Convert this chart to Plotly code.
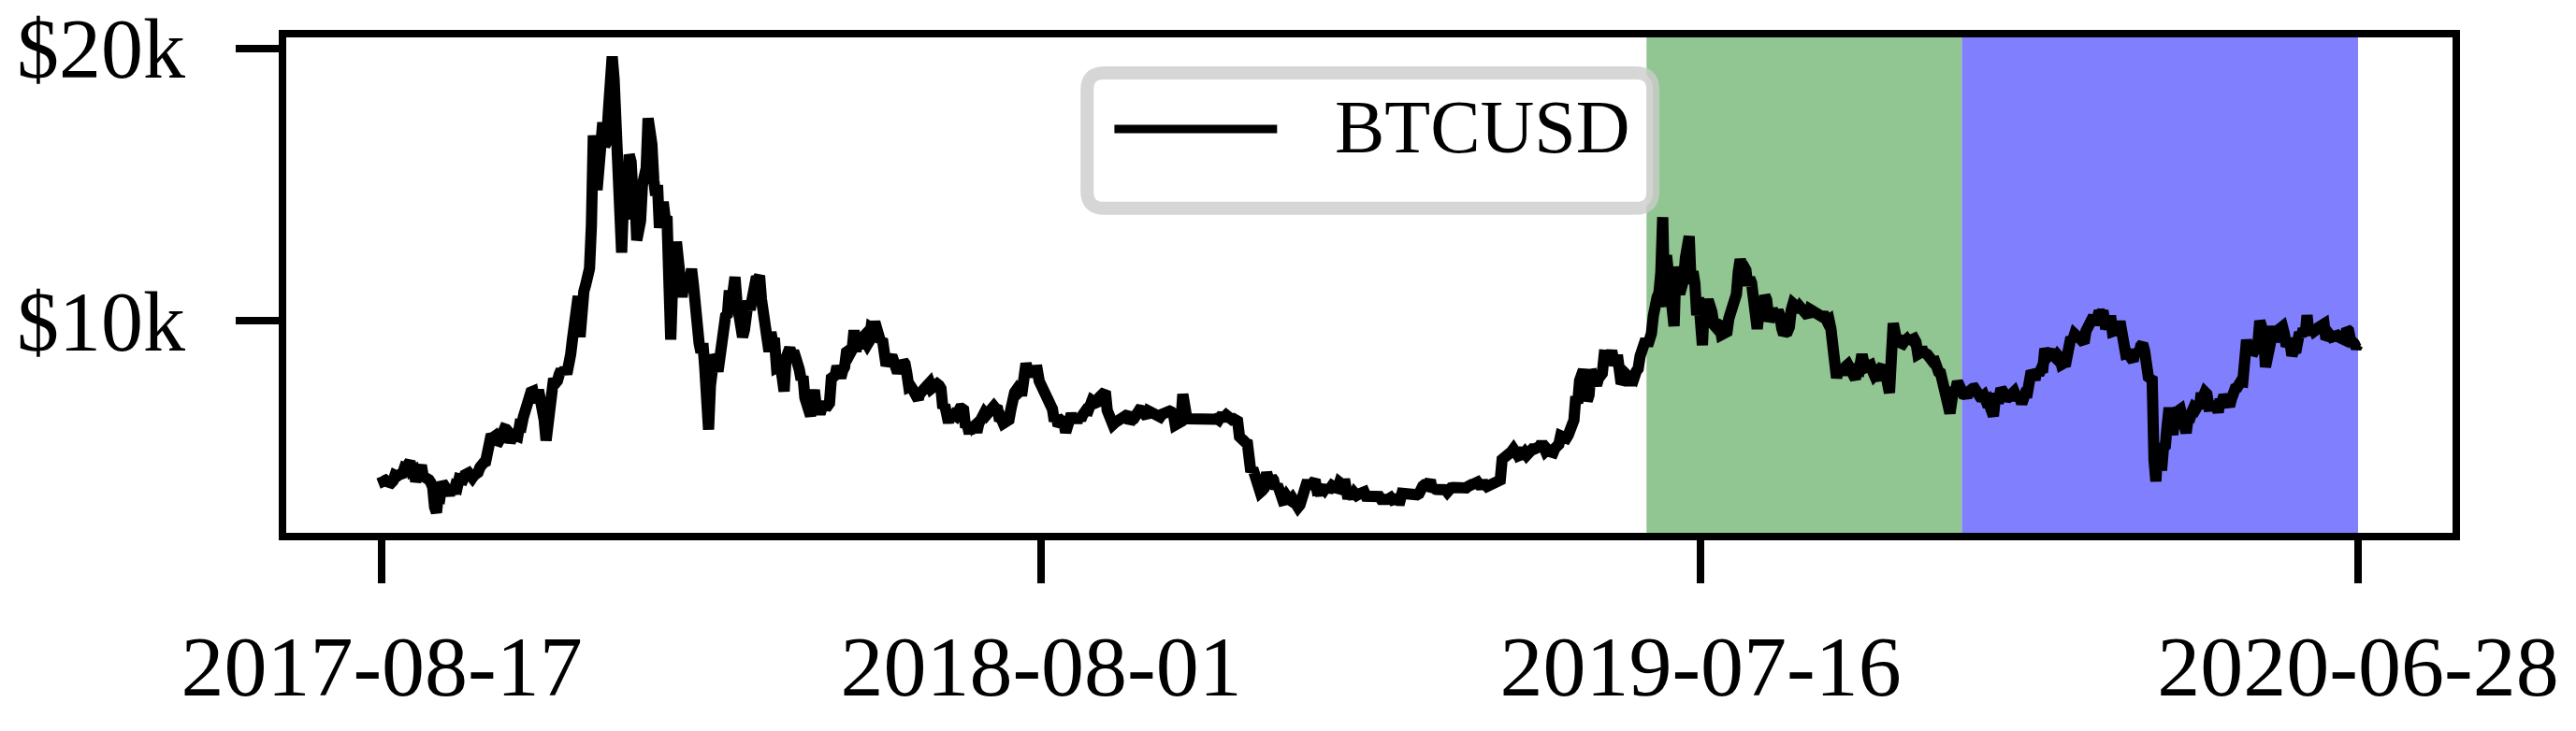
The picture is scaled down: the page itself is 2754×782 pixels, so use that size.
import pandas as pd
import plotly.graph_objects as go

# BTCUSD daily values (a few days keep the hourly extreme the line shows)
btc_2017 = [
    4285, 4108, 4139, 4086, 4016, 4040, 4114, 4316, 4280, 4337, 4310, 4386, 4587, 4555, 4724,  # Aug 17-31
    4834, 4472, 4509, 4100, 4366, 4619, 4691, 4282, 4258, 4130, 4161, 4054, 3882, 3154, 2950,
    3625, 3582, 4065, 3924, 3905, 3631, 3631, 3776, 3660, 3920, 3882, 4193, 4174, 4163, 4338,  # Sep
    4403, 4409, 4317, 4229, 4328, 4370, 4426, 4611, 4772, 4782, 4820, 5430, 5650, 5820, 5711, 5760,
    5595, 5572, 5695, 6005, 6031, 6008, 5930, 5526, 5750, 5904, 5780, 5753, 6153, 6130, 6468,  # Oct
    6767, 7078, 7207, 7379, 7407, 7022, 7144, 7459, 7143, 6618, 6357, 5600, 6559, 6635, 7315,
    7871, 7708, 7790, 8036, 8200, 8071, 8253, 8038, 8253, 8753, 9330, 9818, 10058, 10900, 9400,  # Nov
    10975, 11074, 11323, 11657, 11916, 13500, 16800, 16000, 14800, 15455, 16733, 17276, 16408, 16564, 17706, 19497,
    19700, 18860, 17277, 16466, 15632, 12500, 14397, 13783, 13949, 16099, 15838, 14606, 14656, 12952, 13200,  # Dec
]
btc_2018 = [
    13657, 14982, 15201, 15599, 17429, 17100, 16477, 15170, 14595, 14973, 13405, 13980, 14360, 13772, 13819, 11490,
    9300, 11474, 11607, 12899, 11600, 10931, 10868, 11359, 11259, 11171, 11441, 11900, 11306, 10106, 10221,  # Jan
    9170, 8830, 9174, 8277, 6955, 6000, 7621, 8265, 8736, 8621, 8129, 8926, 8598, 9494,
    10166, 10233, 11112, 10551, 11225, 11600, 10690, 10005, 10301, 9400, 9664, 10366, 10725, 10397,  # Feb
    10951, 11086, 11489, 11512, 11650, 10779, 9965, 9395, 9337, 8866, 9578, 9205, 9194, 8269, 8300, 8338,
    7916, 7400, 8630, 8913, 9000, 8728, 8879, 8668, 8495, 8209, 7833, 7954, 7165, 6890, 6973,  # Mar
    6500, 7083, 7456, 6853, 6811, 6580, 6911, 7023, 6770, 6834, 6968, 7889, 7895, 7986, 8329,
    8058, 7902, 8163, 8294, 8845, 8895, 8802, 8930, 9650, 8869, 9281, 8987, 9346, 9419, 9240,  # Apr
    9119, 9235, 9743, 9700, 9950, 9654, 9373, 9234, 9325, 9043, 8350, 8505, 8723, 8716, 8510, 8368,
    8094, 8250, 8247, 8513, 8419, 8041, 7557, 7587, 7480, 7355, 7368, 7100, 7472, 7406, 7494,  # May
    7541, 7644, 7720, 7514, 7633, 7653, 7678, 7625, 7506, 6786, 6906, 6582, 6250, 6675, 6456,
    6550, 6499, 6734, 6769, 6776, 6729, 6083, 6162, 5850, 6249, 6093, 6157, 5903, 6218, 6404,  # Jun
    6385, 6614, 6529, 6597, 6639, 6673, 6857, 6773, 6741, 6329, 6394, 6228, 6238, 6276, 6359, 6741,
    7321, 7370, 7466, 7354, 7419, 7418, 7711, 8424, 8182, 7951, 8165, 8192, 8218, 8180, 7780,  # Jul
    7625, 7568, 7434, 7032, 7068, 6951, 6753, 6306, 6529, 6144, 6232, 6312, 6253, 5900, 6267, 6308,
    6580, 6386, 6490, 6268, 6473, 6365, 6533, 6698, 6727, 6710, 6908, 7077, 7034, 6983, 7014,  # Aug
    7198, 7273, 7261, 7400, 6708, 6488, 6401, 6186, 6251, 6305, 6278, 6332, 6487, 6486, 6518,
    6502, 6258, 6348, 6394, 6491, 6760, 6717, 6703, 6595, 6445, 6469, 6681, 6637, 6593, 6626,  # Sep
    6590, 6523, 6466, 6563, 6620, 6573, 6617, 6680, 6645, 6576, 6173, 6242, 6262, 6291, 7300, 6480,
    6465, 6400, 6396, 6409, 6423, 6405, 6399, 6420, 6405, 6411, 6419, 6415, 6324, 6316, 6343,  # Oct
    6384, 6410, 6360, 6470, 6419, 6460, 6533, 6414, 6337, 6365, 6392, 6367, 6315, 5740, 5620,
    5542, 5542, 5600, 4770, 4449, 4579, 4355, 4311, 3858, 3700, 3762, 3845, 4261, 4265, 4018,  # Nov
    4247, 4153, 3836, 3963, 3803, 3506, 3396, 3413, 3554, 3451, 3404, 3486, 3290, 3226, 3150, 3234,
    3510, 3663, 3773, 4130, 3881, 4008, 3976, 4150, 3780, 3794, 3594, 3891, 3806, 3913, 3742,  # Dec
]
btc_2019 = [
    3843, 3943, 3837, 3857, 3840, 4060, 4006, 4002, 4004, 3625, 3633, 3617, 3507, 3664, 3586, 3626,
    3655, 3612, 3712, 3553, 3545, 3593, 3566, 3600, 3586, 3585, 3539, 3436, 3410, 3458, 3434,  # Jan
    3462, 3504, 3414, 3462, 3456, 3400, 3398, 3661, 3653, 3651, 3585, 3604, 3586, 3573,
    3592, 3608, 3645, 3894, 3925, 3983, 3936, 3991, 4150, 3750, 3832, 3803, 3817, 3817,  # Feb
    3823, 3808, 3792, 3706, 3858, 3862, 3874, 3865, 3943, 3916, 3871, 3881, 3867, 3860, 3917, 4023,
    3985, 4003, 4022, 4070, 3976, 3986, 3997, 3985, 3909, 3930, 4042, 4024, 4098, 4110, 4103,  # Mar
    4143, 4904, 4960, 4911, 5043, 5059, 5195, 5289, 5184, 5322, 5048, 5078, 5080, 5165, 5064,
    5223, 5277, 5288, 5286, 5321, 5276, 5383, 5535, 5400, 5205, 5270, 5196, 5168, 5154, 5321,  # Apr
    5357, 5457, 5775, 5760, 5717, 5686, 5803, 5988, 6166, 6349, 7225, 6965, 7804, 7990, 8193, 7874,
    7050, 7271, 8196, 7978, 7946, 7626, 7877, 7996, 8060, 8730, 8764, 8718, 8659, 8900, 8545,  # May
    8555, 8741, 8210, 7689, 7790, 7805, 8000, 7930, 7628, 8008, 7935, 8145, 8233, 8695, 8859,
    8990, 9320, 9082, 9274, 9527, 10170, 10737, 10858, 11015, 11763, 13800, 10500, 12400, 11888, 10800,  # Jun
    10585, 9800, 11980, 11150, 10980, 11235, 11480, 12300, 12580, 13100, 11350, 11800, 11380, 10200, 10850, 9430,
    9100, 10630, 10530, 10760, 10590, 10320, 9850, 9770, 9880, 9850, 9480, 9530, 9510, 9590, 10080,  # Jul
    10400, 10520, 10820, 10970, 11800, 12250, 11970, 11980, 11860, 11290, 11560, 11390, 10860, 10020, 9700, 10360,
    10230, 10320, 10920, 10760, 10140, 10130, 10410, 10140, 10140, 10370, 10190, 9720, 9490, 9580, 9600,  # Aug
    9760, 10390, 10630, 10570, 10560, 10310, 10480, 10400, 10320, 10100, 10160, 10410, 10360, 10360, 10310,
    10260, 10180, 10160, 10270, 10170, 9980, 10030, 9700, 8530, 8430, 7900, 8190, 8200, 8050, 8290,  # Sep
    8330, 8390, 8230, 8140, 8150, 7860, 8200, 8180, 8590, 8590, 8270, 8330, 8300, 8370, 8160, 8000,
    8080, 7960, 7970, 8230, 8210, 8030, 7470, 7350, 8660, 9900, 9550, 9230, 9430, 9180, 9150,  # Oct
    9250, 9310, 9200, 9410, 9310, 9340, 9210, 8770, 8810, 9040, 8730, 8800, 8760, 8630, 8460,
    8490, 8500, 8180, 8120, 8080, 7620, 7280, 7330, 6910, 6600, 7160, 7530, 7450, 7760, 7570,  # Nov
    7400, 7310, 7300, 7200, 7390, 7530, 7510, 7520, 7340, 7220, 7200, 7190, 7250, 7070, 7110, 6890,
    6620, 6500, 7150, 7190, 7140, 7510, 7320, 7250, 7200, 7190, 7250, 7300, 7390, 7220, 7190,  # Dec
]
btc_2020 = [
    7200, 6950, 7340, 7350, 7350, 7760, 8150, 8050, 7820, 8200, 8020, 8180, 8110, 8810, 8820, 8720,
    8900, 8910, 8700, 8630, 8740, 8660, 8390, 8430, 8330, 8600, 8900, 9390, 9290, 9510, 9350,  # Jan
    9380, 9330, 9290, 9180, 9620, 9760, 9800, 9900, 10160, 9850, 10270, 10350, 10230, 10360, 9910,
    9930, 9700, 10180, 9600, 9610, 9690, 9670, 9970, 9650, 9310, 8790, 8810, 8710, 8530,  # Feb
    8520, 8910, 8760, 8750, 9070, 9150, 8900, 8040, 7940, 7890, 7940, 4900, 4100, 5500, 5170, 4500,
    5330, 5400, 6170, 6800, 6190, 5810, 6490, 6770, 6690, 6740, 6370, 6250, 5880, 6390, 6410,  # Mar
    6640, 6800, 6740, 6860, 6780, 7340, 7200, 7370, 7300, 6860, 6890, 6910, 6860, 6880, 6630,
    7120, 7030, 7250, 7130, 6840, 6860, 7130, 7480, 7510, 7540, 7700, 7770, 7760, 8790, 9300,  # Apr
    8830, 8970, 8900, 8880, 9030, 9150, 9990, 9810, 9540, 8300, 8560, 8810, 9310, 9790, 9310, 9380,
    9670, 9730, 9780, 9510, 9060, 9170, 9180, 8720, 8900, 8840, 9200, 9570, 9430, 9700, 9450,  # May
    10200, 9520, 9660, 9790, 9620, 9670, 9750, 9780, 9780, 9880, 9320, 9470, 9480, 9390,
    9440, 9520, 9460, 9390, 9310, 9360, 9290, 9690, 9630, 9290, 9250, 9160, 9010, 9120,  # Jun 1-28
]
year_starts = ['2017-08-17', '2018-01-01', '2019-01-01', '2020-01-01']

x_tick_labels = ['2017-08-17', '2018-08-01', '2019-07-16', '2020-06-28']
y_tick_vals = [10000, 20000]
y_tick_labels = ['$10k', '$20k']

# split boundaries: train | validation (green) | test (blue)
val_start = '2019-06-17 10:00'
test_start = '2019-12-01 07:00'

dates = []
prices = []
for start, vals in zip(year_starts, [btc_2017, btc_2018, btc_2019, btc_2020]):
    dates += list(pd.date_range(start, periods=len(vals), freq='D'))
    prices += vals

span = dates[-1] - dates[0]
x_range = [dates[0] - span * 0.0483, dates[-1] + span * 0.0478]

font = 'Liberation Serif'

fig = go.Figure()
fig.add_trace(go.Scatter(x=dates, y=prices, mode='lines', name='BTCUSD',
                         line=dict(color='black', width=12), showlegend=False))

# validation / test periods
fig.add_shape(type='rect', xref='x', yref='paper', x0=val_start, x1=test_start, y0=0, y1=1,
              fillcolor='rgb(145,197,145)', line_width=0, layer='below')
fig.add_shape(type='rect', xref='x', yref='paper', x0=test_start, x1=dates[-1], y0=0, y1=1,
              fillcolor='rgb(128,128,255)', line_width=0, layer='below')

# legend drawn by hand (matplotlib-style long line sample, rounded frame)
lx0, lx1, ly0, ly1 = 0.3697, 0.6309, 0.655, 0.9284
rx, ry = 0.0078, 0.034
box = (f'M {lx0 + rx},{ly0} L {lx1 - rx},{ly0} Q {lx1},{ly0} {lx1},{ly0 + ry} '
       f'L {lx1},{ly1 - ry} Q {lx1},{ly1} {lx1 - rx},{ly1} '
       f'L {lx0 + rx},{ly1} Q {lx0},{ly1} {lx0},{ly1 - ry} '
       f'L {lx0},{ly0 + ry} Q {lx0},{ly0} {lx0 + rx},{ly0} Z')
fig.add_shape(type='path', xref='paper', yref='paper', path=box,
              fillcolor='rgba(255,255,255,0.8)', line=dict(color='rgba(204,204,204,0.8)', width=14),
              layer='above')
fig.add_shape(type='line', xref='paper', yref='paper', x0=0.3823, x1=0.4574, y0=0.8153, y1=0.8153,
              line=dict(color='black', width=9), layer='above')
fig.add_annotation(xref='paper', yref='paper', x=0.483, y=0.818, xanchor='left', yanchor='middle',
                   text=fig.data[0].name, showarrow=False, font=dict(family=font, size=80, color='black'))

fig.update_xaxes(type='date', range=x_range, tickmode='array',
                 tickvals=pd.to_datetime(x_tick_labels), ticktext=x_tick_labels,
                 showline=True, linecolor='black', linewidth=8, mirror=True,
                 ticks='outside', ticklen=46, tickwidth=8, tickcolor='black',
                 ticklabelstandoff=10, ticklabeloverflow='allow',
                 showgrid=False, zeroline=False, automargin=False,
                 tickfont=dict(family=font, size=92, color='black'))
fig.update_yaxes(range=[2210, 20400], tickmode='array', tickvals=y_tick_vals, ticktext=y_tick_labels,
                 showline=True, linecolor='black', linewidth=8, mirror=True,
                 ticks='outside', ticklen=46, tickwidth=8, tickcolor='black',
                 ticklabelstandoff=36, ticklabeloverflow='allow',
                 showgrid=False, zeroline=False, automargin=False,
                 tickfont=dict(family=font, size=90, color='black'))

fig.update_layout(width=2754, height=782, margin=dict(l=306, r=132, t=40, b=211.5),
                  plot_bgcolor='white', paper_bgcolor='white', showlegend=False)

# drop the browser's default 8px body margin so the figure sits at the page corner
fig.write_html('out.html', config={'displayModeBar': False},
               post_script="document.body.style.margin = '0';")
